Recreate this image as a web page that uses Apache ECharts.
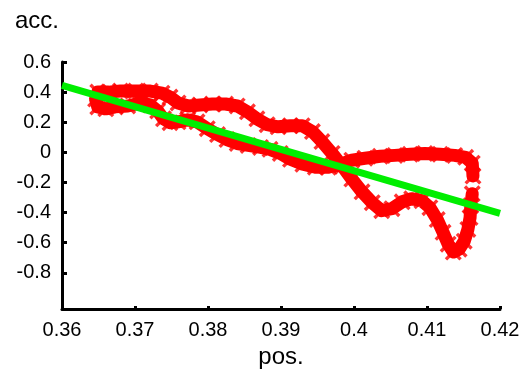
<!DOCTYPE html>
<html>
<head>
<meta charset="utf-8">
<script src="https://cdn.jsdelivr.net/npm/echarts@6/dist/echarts.min.js"></script>
<style>
  html, body { margin: 0; padding: 0; background: #fff; }
  #chart { width: 527px; height: 374px; }
</style>
</head>
<body>
<div id="chart"></div>
<script>
// trajectory (pos, acc), one strand out and back
const trajPos = [
  0.4163, 0.4162, 0.4153, 0.4138, 0.4118, 0.4097, 0.4077, 0.4056, 0.4036, 0.4015,
  0.3997, 0.3981, 0.3965, 0.3947, 0.3930, 0.3913, 0.3899, 0.3885, 0.3872, 0.3855,
  0.3840, 0.3826, 0.3813, 0.3799, 0.3785, 0.3772, 0.3759, 0.3748, 0.3739, 0.3731,
  0.3721, 0.3707, 0.3690, 0.3673, 0.3660, 0.3649, 0.3646,
  0.3649, 0.3664, 0.3680, 0.3701, 0.3721, 0.3737, 0.3748, 0.3759, 0.3773, 0.3789,
  0.3806, 0.3824, 0.3840, 0.3854, 0.3867, 0.3881, 0.3896, 0.3913, 0.3929, 0.3943,
  0.3956, 0.3970, 0.3984, 0.3997, 0.4011, 0.4025, 0.4038, 0.4052, 0.4066, 0.4079,
  0.4093, 0.4104, 0.4114, 0.4122, 0.4129, 0.4136, 0.4144, 0.4151, 0.4156, 0.4159,
  0.4160, 0.4162
];
const trajAcc = [
  -0.157, -0.072, -0.033, -0.020, -0.013, -0.007, -0.013, -0.020, -0.026, -0.039,
  -0.052, -0.079, -0.098, -0.098, -0.079, -0.046, -0.007, 0.020, 0.033, 0.046,
  0.059, 0.085, 0.118, 0.157, 0.203, 0.216, 0.203, 0.197, 0.223, 0.275,
  0.315, 0.328, 0.308, 0.302, 0.289, 0.302, 0.354,
  0.400, 0.400, 0.407, 0.407, 0.407, 0.393, 0.367, 0.328, 0.308, 0.315,
  0.321, 0.321, 0.308, 0.269, 0.223, 0.184, 0.170, 0.177, 0.177, 0.138,
  0.072, -0.007, -0.092, -0.177, -0.262, -0.334, -0.387, -0.374, -0.328, -0.308,
  -0.321, -0.367, -0.446, -0.531, -0.610, -0.662, -0.643, -0.590, -0.512, -0.433,
  -0.354, -0.275
];

// fitted line
const fitPos = [0.36, 0.42];
const fitAcc = [0.445, -0.405];

const yTicks = [-0.8, -0.6, -0.4, -0.2, 0, 0.2, 0.4, 0.6];

const font = 'Liberation Sans, Arial, Helvetica, sans-serif';
const xMark = 'path://M0,1.4L1.4,0L5,3.6L8.6,0L10,1.4L6.4,5L10,8.6L8.6,10L5,6.4L1.4,10L0,8.6L3.6,5Z';

const trajData = trajPos.map((p, i) => [p, trajAcc[i]]);
const fitData = fitPos.map((p, i) => [p, fitAcc[i]]);

const chart = echarts.init(document.getElementById('chart'), null, { renderer: 'canvas' });
chart.setOption({
  animation: false,
  title: {
    text: 'acc.',
    left: 10,
    top: 4,
    textStyle: { fontFamily: font, fontSize: 24, fontWeight: 'normal', color: '#000' }
  },
  grid: { left: 62, right: 27, top: 62, bottom: 61, containLabel: false },
  xAxis: {
    type: 'value',
    min: 0.36,
    max: 0.42,
    interval: 0.01,
    name: 'pos.',
    nameLocation: 'middle',
    nameGap: 36,
    nameTextStyle: { fontFamily: font, fontSize: 24, color: '#000' },
    axisLine: { onZero: false, lineStyle: { color: '#000', width: 3 } },
    axisTick: { inside: true, length: 3, lineStyle: { color: '#000', width: 3 } },
    axisLabel: { fontFamily: font, fontSize: 20, color: '#000', margin: 11 },
    splitLine: { show: false }
  },
  yAxis: {
    type: 'value',
    min: -1.04,
    max: 0.6,
    axisLine: { onZero: false, lineStyle: { color: '#000', width: 3 } },
    axisTick: { inside: true, length: 5, customValues: yTicks, lineStyle: { color: '#000', width: 3 } },
    axisLabel: { fontFamily: font, fontSize: 20, color: '#000', margin: 11, customValues: yTicks },
    splitLine: { show: false }
  },
  series: [
    {
      type: 'line',
      data: trajData,
      showSymbol: false,
      smooth: false,
      lineStyle: { color: '#ff0000', width: 13, cap: 'round', join: 'round' },
      z: 1
    },
    {
      type: 'scatter',
      data: trajData,
      symbol: xMark,
      symbolSize: 17,
      itemStyle: { color: '#ff0000' },
      z: 2
    },
    {
      type: 'line',
      data: fitData,
      showSymbol: false,
      lineStyle: { color: '#00ee00', width: 7 },
      z: 3
    }
  ]
});
</script>
</body>
</html>
